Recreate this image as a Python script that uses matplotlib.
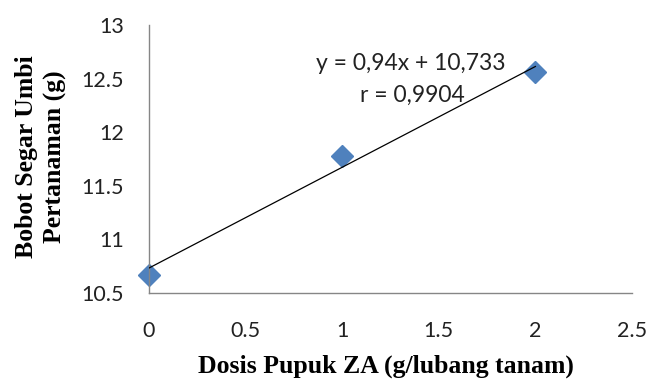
import numpy as np
import matplotlib
matplotlib.use('Agg')
from matplotlib import pyplot as plt

# data
dosis = [0, 1, 2]
bobot = [10.67, 11.78, 12.56]
# trendline as printed on the chart
slope = 0.94
intercept = 10.733
xticks = [0, 0.5, 1, 1.5, 2, 2.5]
yticks = [10.5, 11, 11.5, 12, 12.5, 13]

fig = plt.figure(figsize=(6.49, 3.79), dpi=100)
ax = fig.add_axes([149 / 649, 1 - 293 / 379, (632 - 149) / 649, (293 - 25) / 379])

xs = np.array([dosis[0], dosis[-1]])
ax.plot(xs, slope * xs + intercept, color='black', lw=0.9, zorder=3)
ax.plot(dosis, bobot, linestyle='none', marker='D', markersize=11.5,
        color='#4F81BD', markeredgecolor='#4F81BD', zorder=2, clip_on=False)

ax.set_xlim(0, 2.5)
ax.set_ylim(10.5, 13)
ax.set_xticks(xticks)
ax.set_yticks(yticks)
ax.set_xticklabels([f'{v:g}' for v in xticks], fontfamily='Lato', fontsize=15.5)
ax.set_yticklabels([f'{v:g}' for v in yticks], fontfamily='Lato', fontsize=15.5)
ax.tick_params(length=0, colors='#222222')
ax.tick_params(axis='x', pad=20)
ax.tick_params(axis='y', pad=18)

for s in ['top', 'right']:
    ax.spines[s].set_visible(False)
for s in ['left', 'bottom']:
    ax.spines[s].set_color('#868686')
    ax.spines[s].set_linewidth(1)

fig.text(386 / 649, 1 - 366 / 379, 'Dosis Pupuk ZA (g/lubang tanam)',
         ha='center', va='center', fontfamily='Liberation Serif', fontweight='bold', fontsize=18.5)
fig.text(41 / 649, 1 - 157 / 379, 'Bobot Segar Umbi\nPertanaman (g)', rotation=90,
         ha='center', va='center', fontfamily='Liberation Serif', fontweight='bold',
         fontsize=18.5, linespacing=1.3)

fig.text(411 / 649, 1 - 63 / 379, 'y = 0,94x + 10,733', ha='center', va='center',
         fontfamily='Lato', fontsize=16.5, color='#222222')
fig.text(412 / 649, 1 - 95 / 379, 'r = 0,9904', ha='center', va='center',
         fontfamily='Lato', fontsize=16.5, color='#222222')

fig.savefig('out.png', dpi=100)
